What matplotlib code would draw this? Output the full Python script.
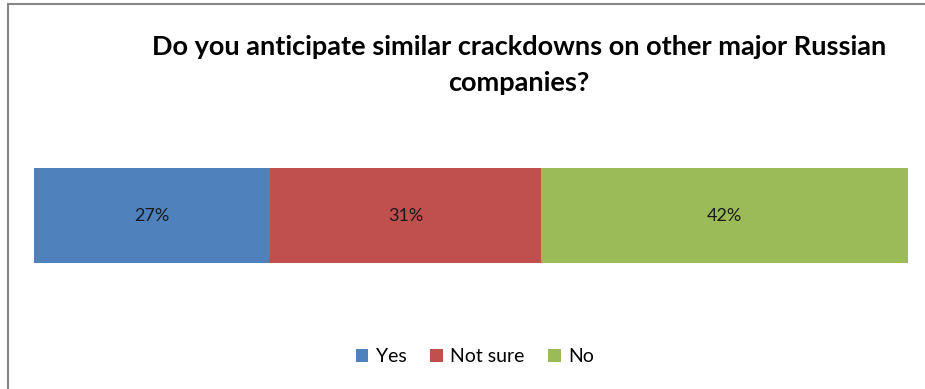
import matplotlib.pyplot as plt
from matplotlib.patches import Rectangle, Patch

plt.rcParams['font.family'] = ['Lato', 'Liberation Sans', 'DejaVu Sans']

# data
categories = ['Yes', 'Not sure', 'No']
shares = [27, 31, 42]
colors = ['#4F81BD', '#C0504D', '#9BBB59']
title = 'Do you anticipate similar crackdowns on other major Russian\ncompanies?'

W, H = 925, 389
fig = plt.figure(figsize=(W / 100, H / 100), dpi=100)

# chart border (right and bottom edges fall outside the image)
fig.patches.append(Rectangle((7.5 / W, -0.05), 1.0, 1 - 3.5 / H + 0.05,
                             transform=fig.transFigure, fill=False,
                             edgecolor='#868686', linewidth=1.5))

ax = fig.add_axes([34 / W, (H - 263) / H, (908 - 34) / W, (263 - 168) / H])
left = 0
for cat, val, col in zip(categories, shares, colors):
    ax.barh(0, val, left=left, height=1.0, color=col, edgecolor='none')
    ax.text(left + val / 2, 0, f'{val}%', ha='center', va='center', fontsize=13, color='#1a1a1a')
    left += val
ax.set_xlim(0, sum(shares))
ax.set_ylim(-0.5, 0.5)
ax.axis('off')

fig.text(519 / W, 1 - 65 / H, title, ha='center', va='center', fontsize=19.5,
         fontweight='bold', linespacing=1.6, color='#000000')

handles = [Patch(facecolor=c, edgecolor='none') for c in colors]
fig.legend(handles, categories, loc='center', bbox_to_anchor=(475 / W, 1 - 357 / H),
           ncol=3, frameon=False, fontsize=14, handlelength=0.65, handleheight=0.65,
           handletextpad=0.4, columnspacing=1.2)

fig.savefig('out.png', dpi=100)
